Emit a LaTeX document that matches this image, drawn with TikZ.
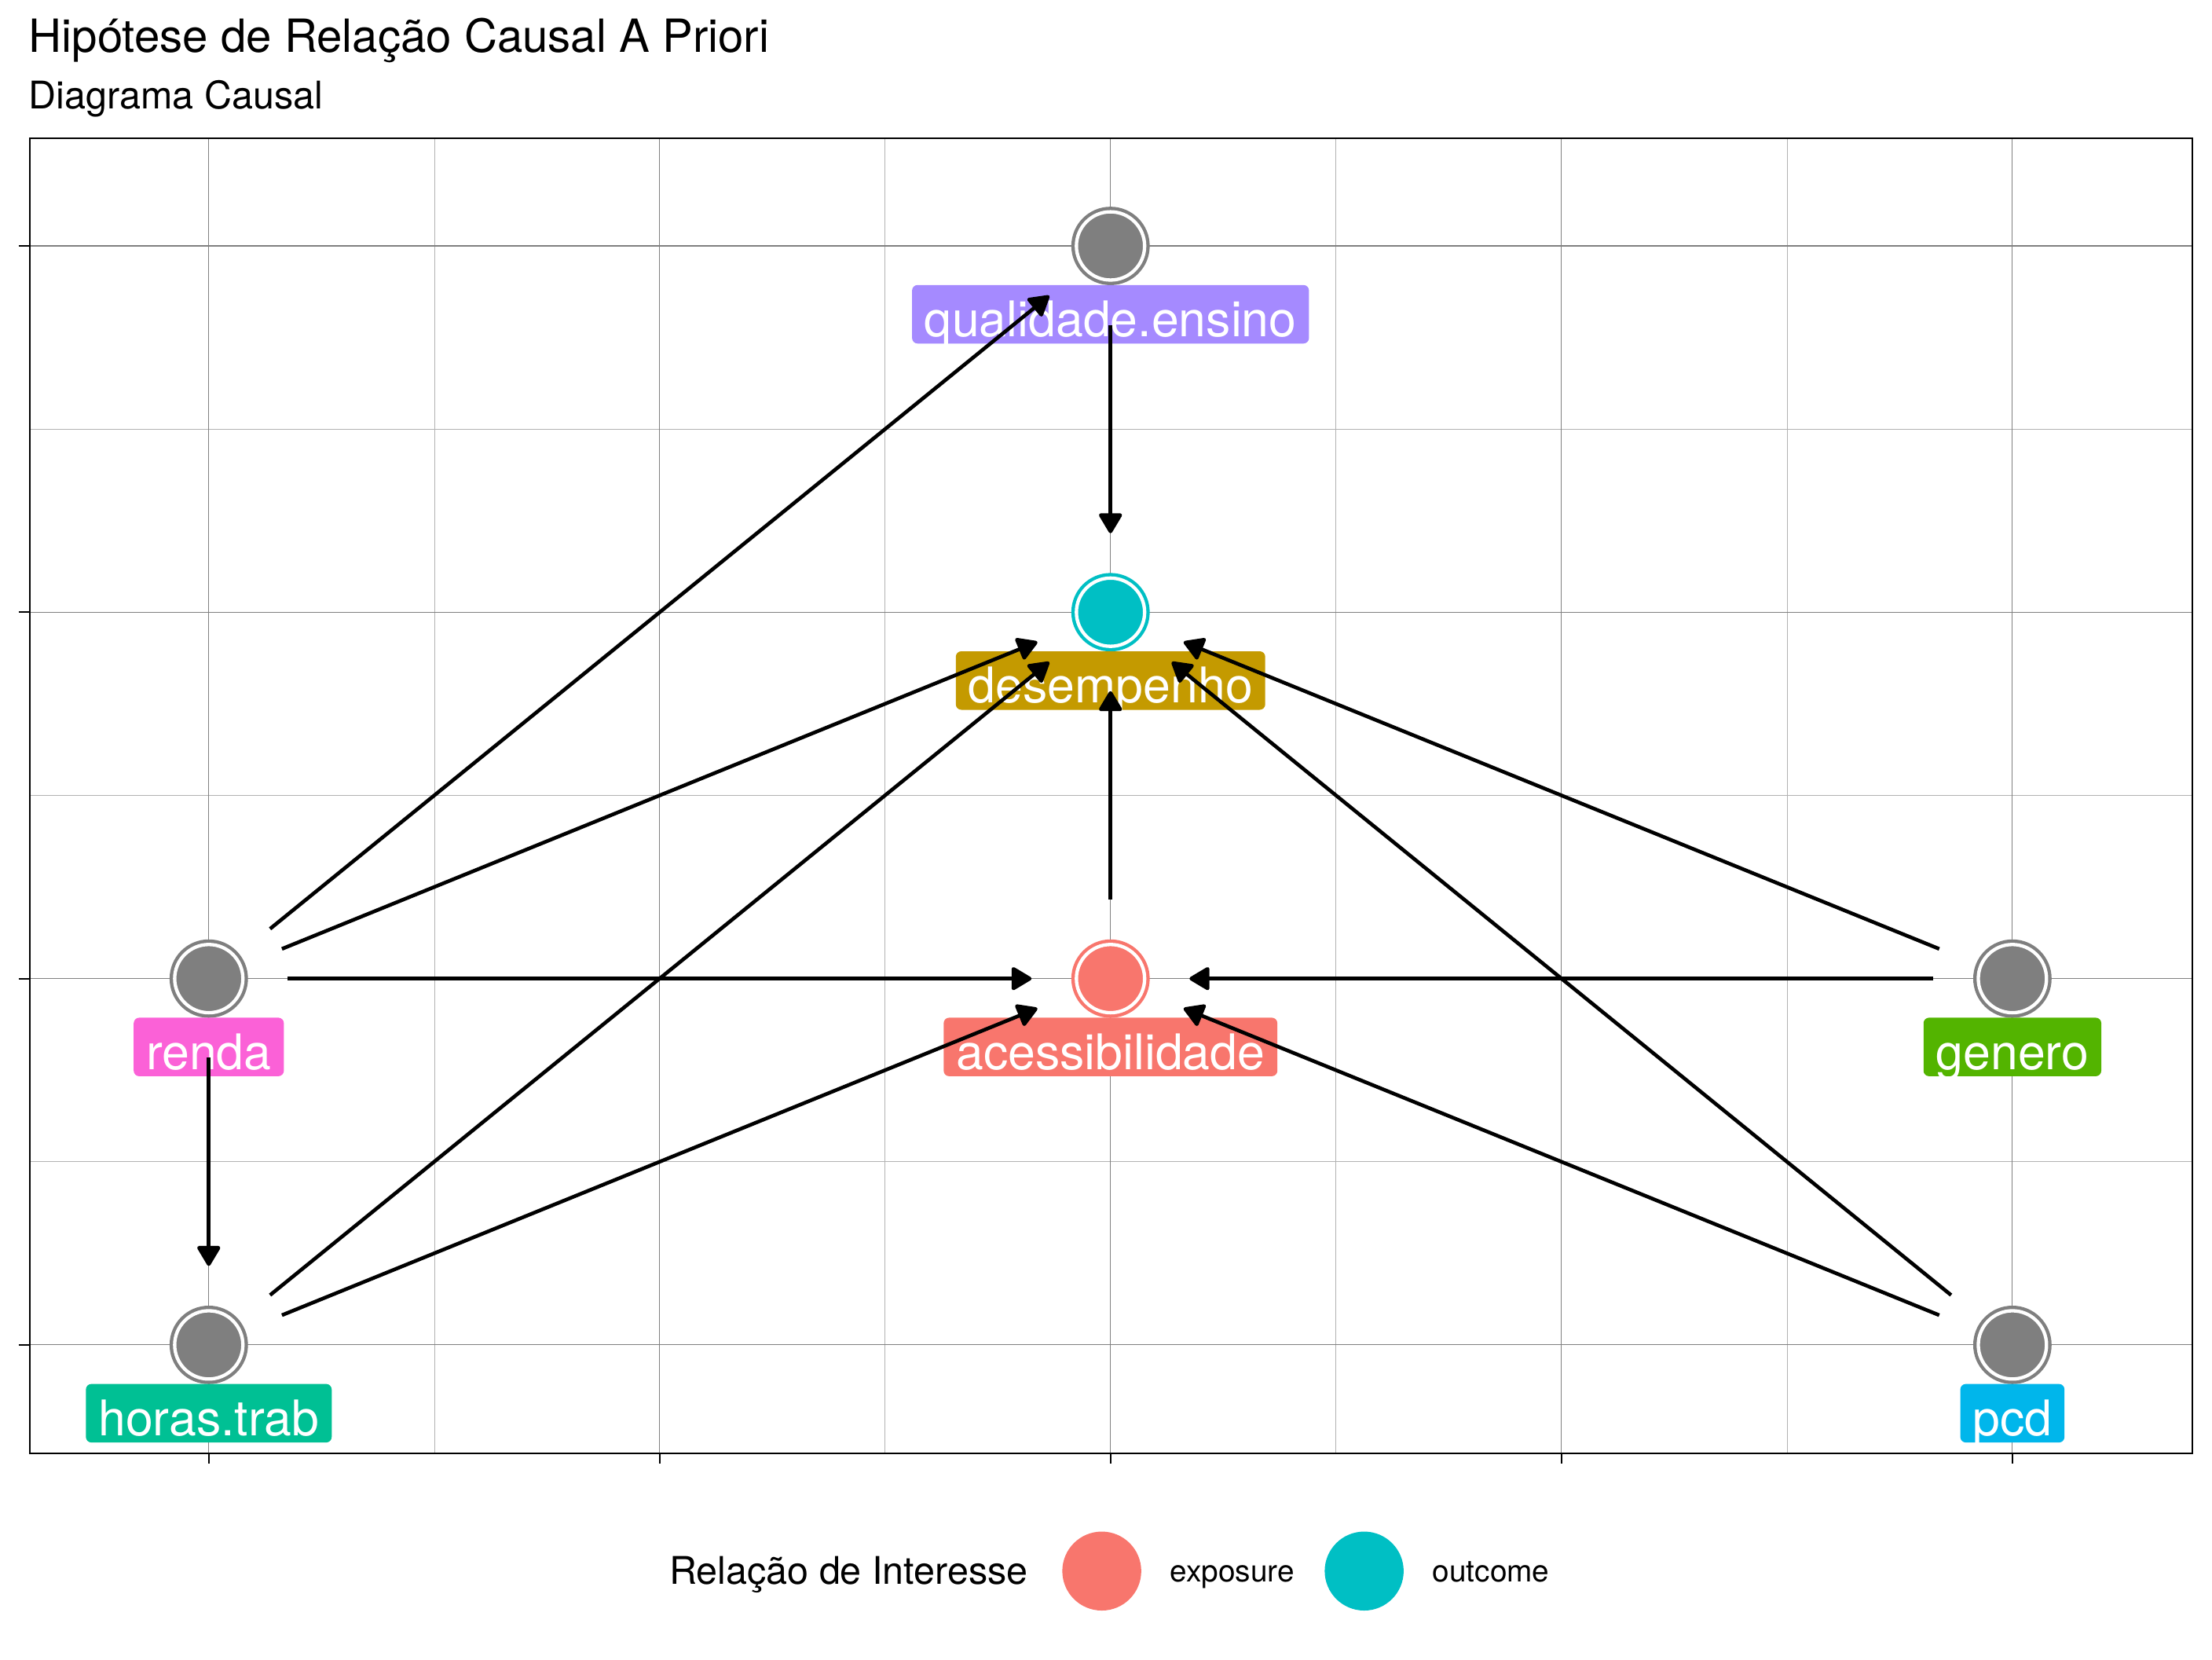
\documentclass[tikz,border=0pt]{standalone}
\usepackage{fontspec}
\setmainfont{TeX Gyre Heros}
\usepackage{xcolor}
\usepackage{tikz}
\usetikzlibrary{arrows.meta}

\definecolor{cacess}{HTML}{F8766D}
\definecolor{cdesemp}{HTML}{C49A00}
\definecolor{cgenero}{HTML}{53B400}
\definecolor{choras}{HTML}{00C094}
\definecolor{cpcd}{HTML}{00B6EB}
\definecolor{cqualid}{HTML}{A58AFF}
\definecolor{crenda}{HTML}{FB61D7}
\definecolor{coutcome}{HTML}{00BFC4}
\definecolor{cnode}{HTML}{7F7F7F}

\begin{document}
\begin{tikzpicture}[x=0.4074pt, y=-0.4074pt,
        gridmajor/.style={black!50, line width=0.25pt},
        gridminor/.style={black!30, line width=0.15pt},
        tick/.style={black, line width=0.45pt},
        dagnode/.style={circle, minimum size=19.7pt, inner sep=0pt, outer sep=0pt,
            fill=#1, draw=#1, double=white, double distance=0.98pt, line width=0.98pt},
        lbl/.style={fill=#1, text=white, rounded corners=1.6pt, anchor=north,
            inner xsep=3.6pt, inner ysep=2pt, text height=12.9pt, text depth=0pt,
            font=\fontsize{14.2}{17}\selectfont},
        edge/.style={-{Triangle[length=6.3pt,width=7.2pt,round]}, line width=1.06pt,
            shorten >=12.95pt, shorten <=12.95pt},
        legdot/.style={circle, fill=#1, minimum size=22.8pt, inner sep=0pt}]
        \useasboundingbox (0,0) rectangle (1568,1176);

        \node[anchor=base west, inner sep=0pt, font=\fontsize{13.2}{16}\selectfont] (titulo) at (20,37) {Hipótese de Relação Causal A Priori};
        \node[anchor=base west, inner sep=0pt, font=\fontsize{11}{13}\selectfont] (subtitulo) at (20,77) {Diagrama Causal};

        \draw[gridminor] (308,98) -- (308,1030) (627.4,98) -- (627.4,1030)
            (946.9,98) -- (946.9,1030) (1266.7,98) -- (1266.7,1030)
            (20.9,304.1) -- (1554,304.1) (20.9,563.8) -- (1554,563.8)
            (20.9,823.4) -- (1554,823.4);
        \draw[gridmajor] (148,98) -- (148,1030) (467.6,98) -- (467.6,1030)
            (787.2,98) -- (787.2,1030) (1106.9,98) -- (1106.9,1030)
            (1426.5,98) -- (1426.5,1030)
            (20.9,174.3) -- (1554,174.3) (20.9,433.9) -- (1554,433.9)
            (20.9,693.6) -- (1554,693.6) (20.9,953.2) -- (1554,953.2);
        \draw[line width=0.45pt] (20.9,98) rectangle (1554,1030);

        \draw[tick] (13.2,174.3) -- (20.9,174.3) (13.2,433.9) -- (20.9,433.9)
            (13.2,693.6) -- (20.9,693.6) (13.2,953.2) -- (20.9,953.2);
        \draw[tick] (148,1030) -- (148,1037.5) (467.6,1030) -- (467.6,1037.5)
            (787.2,1030) -- (787.2,1037.5) (1106.9,1030) -- (1106.9,1037.5)
            (1426.5,1030) -- (1426.5,1037.5);

        \node[dagnode=cnode] (qualidade) at (787.2,174.3) {};
        \node[dagnode=coutcome] (desempenho) at (787.2,433.9) {};
        \node[dagnode=cacess] (acess) at (787.2,693.6) {};
        \node[dagnode=cnode] (renda) at (148,693.6) {};
        \node[dagnode=cnode] (genero) at (1426.5,693.6) {};
        \node[dagnode=cnode] (horas) at (148,953.2) {};
        \node[dagnode=cnode] (pcd) at (1426.5,953.2) {};

        \node[lbl=cqualid] (lqualidade) at (787.2,201.5) {qualidade.ensino};
        \node[lbl=cdesemp] (ldesempenho) at (787.2,461.1) {desempenho};
        \node[lbl=cacess] (lacess) at (787.2,720.8) {acessibilidade};
        \node[lbl=crenda] (lrenda) at (148,720.8) {renda};
        \node[lbl=cgenero] (lgenero) at (1426.5,720.8) {genero};
        \node[lbl=choras] (lhoras) at (148,980.4) {horas.trab};
        \node[lbl=cpcd] (lpcd) at (1426.5,980.4) {pcd};

        \draw[edge] (renda) -- (qualidade);
        \draw[edge] (renda) -- (desempenho);
        \draw[edge] (renda) -- (acess);
        \draw[edge] (renda) -- (horas);
        \draw[edge] (qualidade) -- (desempenho);
        \draw[edge] (horas) -- (desempenho);
        \draw[edge] (horas) -- (acess);
        \draw[edge] (acess) -- (desempenho);
        \draw[edge] (genero) -- (desempenho);
        \draw[edge] (genero) -- (acess);
        \draw[edge] (pcd) -- (desempenho);
        \draw[edge] (pcd) -- (acess);

        \node[anchor=base west, inner sep=0pt, font=\fontsize{11}{13}\selectfont] (legtitulo) at (474,1123) {Relação de Interesse};
        \node[legdot=cacess] (legexp) at (781,1113.5) {};
        \node[anchor=base west, inner sep=0pt, font=\fontsize{8.8}{10}\selectfont] (legexptxt) at (829,1121) {exposure};
        \node[legdot=coutcome] (legout) at (967,1113.5) {};
        \node[anchor=base west, inner sep=0pt, font=\fontsize{8.8}{10}\selectfont] (legouttxt) at (1015,1121) {outcome};
    \end{tikzpicture}
\end{document}
